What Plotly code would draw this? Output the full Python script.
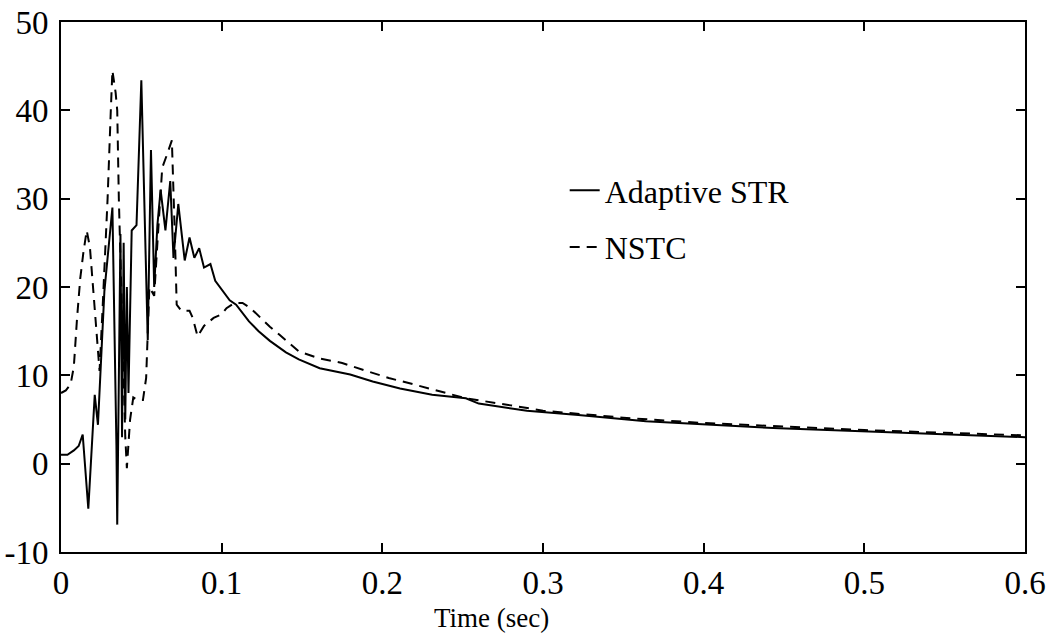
import plotly.graph_objects as go

# Adaptive STR (solid)
t_str = [0.000, 0.004, 0.008, 0.011, 0.0135, 0.017, 0.021, 0.023, 0.027, 0.030,
         0.032, 0.0345, 0.035, 0.037, 0.038, 0.039, 0.040, 0.041, 0.042, 0.044,
         0.047, 0.050, 0.054, 0.056, 0.058, 0.060, 0.062, 0.065, 0.068, 0.070,
         0.073, 0.077, 0.080, 0.083, 0.086, 0.089, 0.093, 0.096, 0.101, 0.105,
         0.109, 0.113, 0.117, 0.123, 0.130, 0.140, 0.148, 0.161, 0.180, 0.194,
         0.211, 0.231, 0.252, 0.260, 0.290, 0.322, 0.364, 0.405, 0.447, 0.507,
         0.550, 0.583, 0.600]
y_str = [1.0, 1.0, 1.5, 2.0, 3.3, -5.1, 7.8, 4.4, 19.5, 25.0,
         29.0, 2.0, -6.9, 26.0, 3.0, 25.0, 5.0, 20.0, 8.0, 26.4,
         27.0, 43.4, 14.0, 35.5, 20.0, 27.0, 31.0, 26.4, 32.0, 23.3,
         29.4, 23.0, 25.6, 23.3, 24.4, 22.2, 22.6, 20.7, 19.5, 18.5,
         18.0, 17.0, 16.1, 15.0, 13.9, 12.6, 11.8, 10.8, 10.1, 9.3,
         8.5, 7.8, 7.4, 6.8, 6.0, 5.5, 4.8, 4.4, 4.0, 3.6,
         3.3, 3.1, 3.0]

# NSTC (dashed)
t_nstc = [0.000, 0.003, 0.006, 0.008, 0.010, 0.012, 0.014, 0.016, 0.018, 0.020,
          0.022, 0.024, 0.026, 0.029, 0.031, 0.032, 0.034, 0.035, 0.036, 0.038,
          0.040, 0.041, 0.043, 0.045, 0.048, 0.051, 0.053, 0.055, 0.058, 0.060,
          0.063, 0.066, 0.069, 0.071, 0.072, 0.075, 0.080, 0.082, 0.085, 0.089,
          0.095, 0.100, 0.103, 0.108, 0.113, 0.118, 0.122, 0.130, 0.136, 0.148,
          0.161, 0.175, 0.190, 0.204, 0.219, 0.235, 0.252, 0.280, 0.300, 0.350,
          0.400, 0.450, 0.500, 0.550, 0.600]
y_nstc = [8.0, 8.3, 9.0, 11.0, 16.5, 21.0, 24.0, 26.4, 24.5, 20.0,
          14.6, 10.5, 18.0, 30.0, 40.0, 44.5, 42.0, 40.0, 30.0, 15.0,
          3.0, -0.5, 5.0, 7.5, 7.2, 7.2, 9.7, 20.0, 19.0, 25.0,
          33.5, 35.0, 36.6, 25.0, 18.0, 17.3, 17.3, 16.5, 14.4, 15.6,
          16.5, 16.9, 17.6, 18.2, 18.2, 17.6, 16.9, 15.5, 14.6, 12.7,
          11.9, 11.4, 10.5, 9.7, 9.0, 8.2, 7.4, 6.6, 6.0, 5.2,
          4.6, 4.2, 3.8, 3.5, 3.2]

x_ticks = [0, 0.1, 0.2, 0.3, 0.4, 0.5, 0.6]
x_tick_labels = ["0", "0.1", "0.2", "0.3", "0.4", "0.5", "0.6"]
y_ticks = [-10, 0, 10, 20, 30, 40, 50]
y_tick_labels = ["-10", "0", "10", "20", "30", "40", "50"]

FONT = "Liberation Serif"

fig = go.Figure()
fig.add_trace(go.Scatter(x=t_str, y=y_str, mode="lines", name="Adaptive STR",
                         legendgroup="a",
                         line=dict(color="black", width=2)))
fig.add_trace(go.Scatter(x=t_nstc, y=y_nstc, mode="lines", name="NSTC",
                         legendgroup="b",
                         line=dict(color="black", width=2, dash="10px,7px")))

fig.update_layout(
    width=1055, height=644,
    margin=dict(l=61, r=30, t=22, b=92),
    plot_bgcolor="white", paper_bgcolor="white",
    font=dict(family=FONT, color="black"),
    showlegend=True,
    legend=dict(x=0.5225, y=0.734, xanchor="left", yanchor="top",
                font=dict(family=FONT, size=32, color="black"),
                bgcolor="rgba(0,0,0,0)", tracegroupgap=12,
                itemwidth=30),
    annotations=[dict(text="Time (sec)", xref="paper", yref="paper",
                      x=0.447, y=-0.125, xanchor="center", yanchor="middle",
                      showarrow=False,
                      font=dict(family=FONT, size=27, color="black"))],
    xaxis=dict(range=[0, 0.6], tickvals=x_ticks, ticktext=x_tick_labels,
               showline=True, linecolor="black", linewidth=2, mirror="ticks",
               ticks="inside", ticklen=9, tickwidth=1.5, tickcolor="black",
               showgrid=False, zeroline=False, automargin=False,
               ticklabeloverflow="allow",
               tickfont=dict(family=FONT, size=33, color="black")),
    yaxis=dict(range=[-10, 50], tickvals=y_ticks, ticktext=y_tick_labels,
               showline=True, linecolor="black", linewidth=2, mirror="ticks",
               ticks="inside", ticklen=9, tickwidth=1.5, tickcolor="black",
               showgrid=False, zeroline=False, automargin=False,
               ticklabelstandoff=4, ticklabeloverflow="allow",
               tickfont=dict(family=FONT, size=33, color="black")),
)

fig.write_html("out.html",
               config={"displayModeBar": False},
               post_script="document.body.style.margin='0';document.body.style.overflow='hidden';")
